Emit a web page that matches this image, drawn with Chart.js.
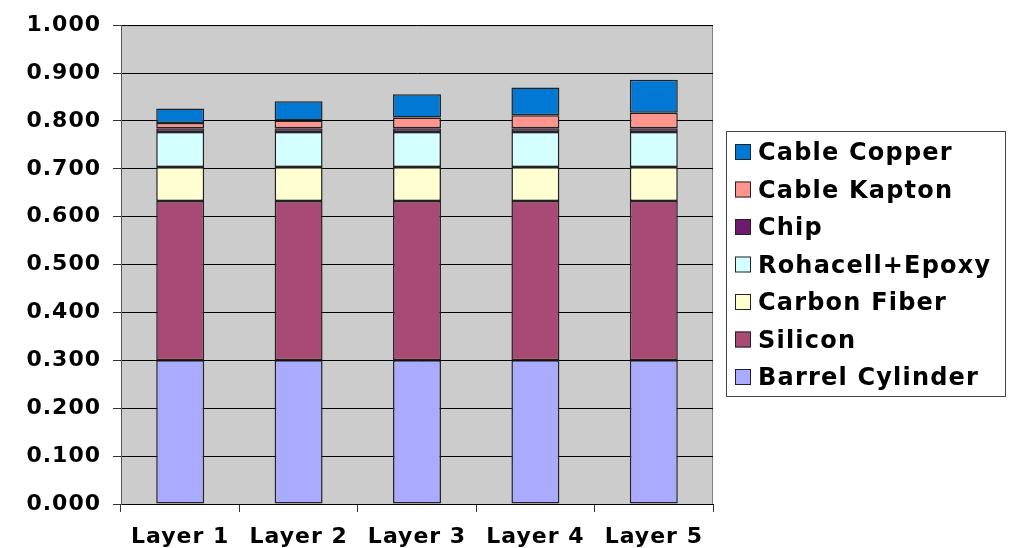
<!DOCTYPE html>
<html>
<head>
<meta charset="utf-8">
<script src="https://cdn.jsdelivr.net/npm/chart.js@4/dist/chart.umd.min.js"></script>
<style>
    html, body { margin: 0; padding: 0; background: #fff; }
    #wrap { width: 1015px; height: 548px; }
</style>
</head>
<body>
<div id="wrap"><canvas id="layers"></canvas></div>
<script>
    "use strict";

    // data (radiation length fraction per layer)
    var categories = ['Layer 1', 'Layer 2', 'Layer 3', 'Layer 4', 'Layer 5'];
    var barrelCylinder = [0.300, 0.300, 0.300, 0.300, 0.300];
    var silicon = [0.333, 0.333, 0.333, 0.333, 0.333];
    var carbonFiber = [0.071, 0.071, 0.071, 0.071, 0.071];
    var rohacellEpoxy = [0.073, 0.073, 0.073, 0.073, 0.073];
    var chip = [0.008, 0.008, 0.008, 0.008, 0.008];
    var cableKapton = [0.011, 0.016, 0.022, 0.027, 0.032];
    var cableCopper = [0.030, 0.040, 0.049, 0.058, 0.069];
    var yTicks = [0, 0.1, 0.2, 0.3, 0.4, 0.5, 0.6, 0.7, 0.8, 0.9, 1.0];

    var fontFamily = '"DejaVu Sans", Verdana, sans-serif';

    function series(label, data, color) {
        return {
            label: label,
            data: data,
            backgroundColor: color,
            borderColor: '#222222',
            borderWidth: 1.5,
            borderSkipped: false,
            barPercentage: 0.405,
            categoryPercentage: 1.0
        };
    }

    // grey plot area with a thin frame
    var plotBackground = {
        id: 'plotBackground',
        beforeDraw: function (chart) {
            var a = chart.chartArea, ctx = chart.ctx;
            ctx.save();
            ctx.fillStyle = '#cccccc';
            ctx.fillRect(a.left, a.top, a.right - a.left, a.bottom - a.top);
            ctx.strokeStyle = '#808080';
            ctx.lineWidth = 1;
            ctx.strokeRect(a.left + 0.5, a.top + 0.5, a.right - a.left - 1, a.bottom - a.top);
            ctx.restore();
            // Verdana is wider than DejaVu, so open the tick letters up a little
            ctx.letterSpacing = '1px';
        }
    };

    // boxed legend on the right, top item = last dataset
    var boxedLegend = {
        id: 'boxedLegend',
        afterDraw: function (chart) {
            var ctx = chart.ctx;
            var sets = chart.data.datasets.slice().reverse();
            var x0 = 726, y0 = 131, w = 279, h = 265;
            var firstY = 152, step = 37.5;
            ctx.save();
            ctx.fillStyle = '#ffffff';
            ctx.fillRect(x0, y0, w, h);
            ctx.strokeStyle = '#444444';
            ctx.lineWidth = 1;
            ctx.strokeRect(x0 + 0.5, y0 + 0.5, w, h);
            ctx.font = 'bold 24px ' + fontFamily;
            ctx.letterSpacing = '1.2px';
            ctx.textBaseline = 'middle';
            sets.forEach(function (ds, i) {
                var cy = firstY + i * step;
                ctx.fillStyle = ds.backgroundColor;
                ctx.fillRect(735, cy - 8, 16, 16);
                ctx.strokeStyle = '#222222';
                ctx.strokeRect(735.5, cy - 7.5, 15, 15);
                ctx.fillStyle = '#000000';
                ctx.fillText(ds.label, 758, cy + 2);
            });
            ctx.restore();
        }
    };

    var ctx = document.getElementById('layers').getContext('2d');
    var chart = new Chart(ctx, {
        type: 'bar',
        data: {
            labels: categories,
            datasets: [
                series('Barrel Cylinder', barrelCylinder, '#aaaaff'),
                series('Silicon', silicon, '#a84a74'),
                series('Carbon Fiber', carbonFiber, '#ffffd2'),
                series('Rohacell+Epoxy', rohacellEpoxy, '#d4ffff'),
                series('Chip', chip, '#6e1a6e'),
                series('Cable Kapton', cableKapton, '#ff958e'),
                series('Cable Copper', cableCopper, '#0078d4')
            ]
        },
        options: {
            responsive: true,
            maintainAspectRatio: false,
            animation: false,
            layout: {
                padding: { left: 0, top: 20, right: 302, bottom: 0 }
            },
            plugins: {
                legend: { display: false },
                tooltip: { enabled: false }
            },
            scales: {
                x: {
                    stacked: true,
                    offset: true,
                    grid: {
                        offset: true,
                        drawOnChartArea: false,
                        tickLength: 8,
                        color: '#333333'
                    },
                    border: { display: true, color: '#000000', width: 1 },
                    ticks: {
                        color: '#000000',
                        padding: 12,
                        font: { family: fontFamily, size: 22, weight: 'bold' }
                    },
                    afterFit: function (scale) { scale.height = 44; }
                },
                y: {
                    stacked: true,
                    min: 0,
                    max: 1,
                    afterBuildTicks: function (scale) {
                        scale.ticks = yTicks.map(function (v) { return { value: v }; });
                    },
                    grid: {
                        color: '#000000',
                        tickLength: 8,
                        tickColor: '#333333'
                    },
                    border: { display: true, color: '#555555', width: 1 },
                    ticks: {
                        color: '#000000',
                        padding: 12,
                        font: { family: fontFamily, size: 22, weight: 'bold' },
                        callback: function (v) { return Number(v).toFixed(3); }
                    },
                    afterFit: function (scale) { scale.width = 121; }
                }
            }
        },
        plugins: [plotBackground, boxedLegend]
    });
</script>
</body>
</html>
